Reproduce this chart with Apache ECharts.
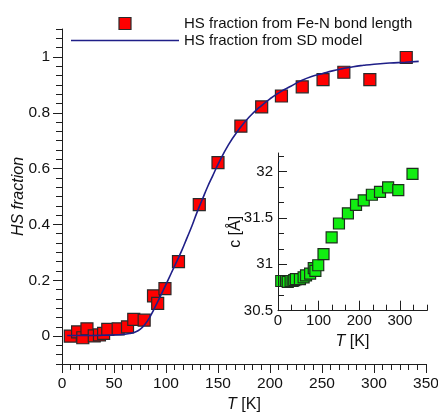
<!DOCTYPE html>
<html><head><meta charset="utf-8">
<script src="https://cdn.jsdelivr.net/npm/echarts@6/dist/echarts.min.js"></script>
<style>html,body{margin:0;padding:0;background:#fff}#c{width:438px;height:412px}</style>
</head><body><div id="c"></div>
<script>
// ---- data ----
const temperatures = [8, 15, 20, 24, 31, 36, 40, 44, 54, 63, 69, 79, 88, 92, 99, 112, 132, 150, 172, 192, 211, 231, 251, 271, 296, 331];
const hsFromBond   = [0.0, 0.015, -0.006, 0.026, 0.001, 0.004, 0.01, 0.024, 0.026, 0.033, 0.06, 0.057, 0.144, 0.117, 0.17, 0.267, 0.471, 0.621, 0.752, 0.821, 0.86, 0.893, 0.919, 0.945, 0.919, 0.998];
const cLattice     = [30.82, 30.82, 30.82, 30.81, 30.82, 30.82, 30.83, 30.84, 30.84, 30.86, 30.88, 30.90, 30.96, 30.93, 30.99, 31.11, 31.29, 31.44, 31.55, 31.64, 31.69, 31.75, 31.78, 31.83, 31.80, 31.975];
const modelT  = [5, 20, 40, 55, 65, 70, 75, 80, 85, 90, 95, 100, 105, 110, 115, 120, 125, 130, 135, 140, 145, 150, 160, 170, 180, 190, 200, 210, 220, 230, 240, 250, 260, 270, 280, 290, 300, 315, 330, 343];
const modelHS = [0.002, 0.002, 0.003, 0.005, 0.009, 0.014, 0.024, 0.043, 0.072, 0.108, 0.146, 0.185, 0.225, 0.265, 0.305, 0.35, 0.395, 0.445, 0.49, 0.535, 0.575, 0.615, 0.685, 0.74, 0.785, 0.82, 0.85, 0.875, 0.895, 0.915, 0.93, 0.94, 0.95, 0.958, 0.965, 0.97, 0.974, 0.978, 0.981, 0.984];
const mainXTicks  = [0, 50, 100, 150, 200, 250, 300, 350];
const mainYTicks  = [0, 0.2, 0.4, 0.6, 0.8, 1];
const insetXTicks = [0, 100, 200, 300];
const insetYTicks = [30.5, 31, 31.5, 32];
const seriesNames = ['HS fraction from Fe-N bond length', 'HS fraction from SD model'];

// ---- helpers ----
function minorTicks(min, max, step) {
  const out = [];
  const k0 = Math.ceil(min / step - 1e-9), k1 = Math.floor(max / step + 1e-9);
  for (let k = k0; k <= k1; k++) out.push(+(k * step).toFixed(6));
  return out;
}
const FONT = 'Liberation Sans, Arial, Helvetica, sans-serif';
const AX = '#1e1e1e';
const lineS = { color: AX, width: 1 };
const nameRich = { i: { fontStyle: 'italic', fontFamily: FONT, fontSize: 16, color: '#111' } };

const MX = { min: 0, max: 350 }, MY = { min: -0.1, max: 1.1 };
const IX = { min: 0, max: 366.67 }, IY = { min: 30.5, max: 32.2 };

function majorAxis(grid, ext, ticks, opts) {
  return Object.assign({
    gridIndex: grid, type: 'value', min: ext.min, max: ext.max, nameMoveOverlap: false,
    axisLine: { show: true, onZero: false, lineStyle: lineS },
    axisTick: { show: true, customValues: ticks, length: opts.tickLen, inside: !!opts.inside, lineStyle: lineS },
    axisLabel: { show: true, customValues: ticks, margin: opts.margin, fontSize: opts.fontSize, color: '#111', fontFamily: FONT, hideOverlap: false },
    splitLine: { show: false }
  }, opts.extra || {});
}
function minorAxis(grid, ext, ticks, len, inside, pos) {
  return {
    gridIndex: grid, type: 'value', min: ext.min, max: ext.max, position: pos,
    axisLine: { show: false, onZero: false },
    axisTick: { show: true, customValues: ticks, length: len, inside: inside, lineStyle: lineS },
    axisLabel: { show: false }, splitLine: { show: false }
  };
}

const chart = echarts.init(document.getElementById('c'), null, { renderer: 'canvas' });
chart.setOption({
  animation: false,
  backgroundColor: '#fff',
  textStyle: { fontFamily: FONT },
  grid: [
    { left: 62, top: 29, width: 364, height: 335, containLabel: false, outerBoundsMode: 'none' },
    { left: 278, top: 153, width: 149, height: 157.7, containLabel: false, outerBoundsMode: 'none' }
  ],
  legend: {
    orient: 'vertical', left: 66, top: 11, itemWidth: 108, itemHeight: 12, itemGap: 2,
    textStyle: { fontSize: 15, color: '#111', fontFamily: FONT },
    data: [
      { name: seriesNames[0], icon: 'path://M0,0 L10,0 L10,10 L0,10 Z', itemStyle: { borderColor: '#2a2a2a', borderWidth: 1.2 } },
      { name: seriesNames[1], icon: 'path://M0,0 L100,0 L100,1.5 L0,1.5 Z', itemStyle: { borderWidth: 0 } }
    ]
  },
  xAxis: [
    majorAxis(0, MX, mainXTicks, { tickLen: 9, margin: 12, fontSize: 15.5, extra: {
      position: 'bottom', name: '{i|T} [K]', nameLocation: 'middle', nameGap: 33,
      nameTextStyle: { fontSize: 16, color: '#111', fontFamily: FONT, rich: nameRich } } }),
    minorAxis(0, MX, minorTicks(MX.min, MX.max, 50 / 6), 6, false, 'bottom'),
    majorAxis(1, IX, insetXTicks, { tickLen: 10, margin: 3, fontSize: 15, inside: true, extra: {
      position: 'bottom', name: '{i|T} [K]', nameLocation: 'middle', nameGap: 23,
      nameTextStyle: { fontSize: 16, color: '#111', fontFamily: FONT, rich: nameRich } } }),
    minorAxis(1, IX, minorTicks(IX.min, IX.max, 100 / 3), 6, true, 'bottom')
  ],
  yAxis: [
    majorAxis(0, MY, mainYTicks, { tickLen: 9, margin: 12, fontSize: 15.5, extra: {
      position: 'left', name: 'HS fraction', nameLocation: 'middle', nameGap: 35,
      nameTextStyle: { fontSize: 16, fontStyle: 'italic', color: '#111', fontFamily: FONT } } }),
    minorAxis(0, MY, minorTicks(MY.min, MY.max, 0.2 / 6), 6, false, 'left'),
    majorAxis(1, IY, insetYTicks, { tickLen: 9, margin: 5, fontSize: 15, inside: true, extra: {
      position: 'left', name: 'c [Å]', nameLocation: 'middle', nameGap: 34,
      nameTextStyle: { fontSize: 16, color: '#111', fontFamily: FONT } } }),
    minorAxis(1, IY, minorTicks(IY.min, IY.max, 0.5 / 3), 6, true, 'left')
  ],
  series: [
    {
      name: seriesNames[0], type: 'scatter', xAxisIndex: 0, yAxisIndex: 0, z: 2,
      symbol: 'rect', symbolSize: 12,
      itemStyle: { color: '#ff0000', borderColor: '#2a2a2a', borderWidth: 1.2, opacity: 1 },
      data: temperatures.map((t, i) => [t, hsFromBond[i]])
    },
    {
      name: seriesNames[1], type: 'line', xAxisIndex: 0, yAxisIndex: 0, z: 3,
      smooth: true, symbol: 'none', showSymbol: false,
      lineStyle: { color: '#1f1f88', width: 1.6 }, itemStyle: { color: '#1f1f88' },
      data: modelT.map((t, i) => [t, modelHS[i]])
    },
    {
      name: 'c', type: 'scatter', xAxisIndex: 2, yAxisIndex: 2, z: 2,
      symbol: 'rect', symbolSize: 11,
      itemStyle: { color: '#11ee11', borderColor: '#1d2e1d', borderWidth: 1.2, opacity: 1 },
      data: temperatures.map((t, i) => [t, cLattice[i]])
    }
  ]
});
</script>
</body></html>
